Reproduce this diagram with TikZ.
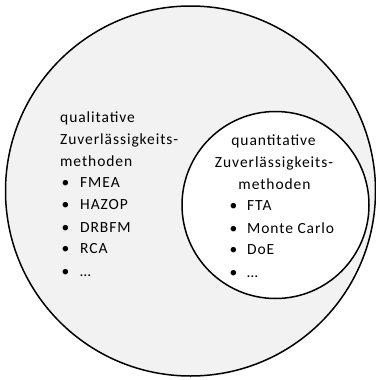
\documentclass[tikz,border=0pt]{standalone}
\usepackage{fontspec}
\setmainfont{Carlito}[LetterSpace=6]
\definecolor{bgGrey}{HTML}{F2F2F2}
\tikzset{
  venn/.style={circle, draw=black, line width=1.5pt, inner sep=0pt},
  txt/.style={anchor=base west, inner sep=0pt, font=\fontsize{15.5}{18}\selectfont},
  ctxt/.style={anchor=base, inner sep=0pt, font=\fontsize{15.5}{18}\selectfont},
}
\begin{document}
\begin{tikzpicture}[x=1pt,y=-1pt]
\useasboundingbox (0,0) rectangle (375,380);
\node[venn, fill=bgGrey, minimum size=370pt] (outer) at (190.5,191) {};
\node[venn, fill=white, minimum size=187pt] (inner) at (275.5,205) {};
% left block
\node[txt] (ql1) at (60,122) {qualitative};
\node[txt] (ql2) at (60,144) {Zuverlässigkeits-};
\node[txt] (ql3) at (60,166) {methoden};
\foreach \t/\y/\n in {FMEA/187/a, HAZOP/209/b, DRBFM/232/c, RCA/253/d, …/276/e}{
  \node[txt] (lb\n) at (61.5,\y) {\textbullet};
  \node[txt] (lt\n) at (80,\y) {\t};
}
% right block
\node[ctxt] (qr1) at (273.5,145) {quantitative};
\node[ctxt] (qr2) at (274,167) {Zuverlässigkeits-};
\node[ctxt] (qr3) at (274.5,189) {methoden};
\foreach \t/\y/\n in {FTA/210/a, Monte Carlo/233/b, DoE/254/c, …/277/d}{
  \node[txt] (rb\n) at (229.5,\y) {\textbullet};
  \node[txt] (rt\n) at (247,\y) {\t};
}
\end{tikzpicture}
\end{document}
